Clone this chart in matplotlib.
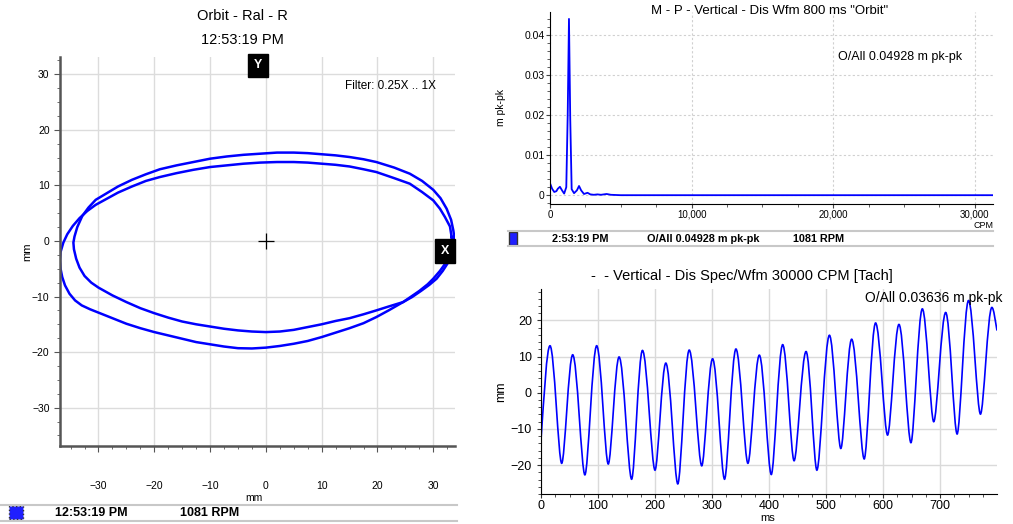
import matplotlib.pyplot as plt
import numpy as np
from matplotlib.lines import Line2D
from matplotlib.patches import Rectangle, PathPatch
from matplotlib.path import Path
from matplotlib.ticker import AutoMinorLocator, FixedLocator

plt.rcParams['font.family'] = ['Liberation Sans', 'DejaVu Sans']

# Orbit, two revolutions (mm)
orbit_a_x = [33.3, 33.0, 32.1, 31.2, 30.0, 28.0, 25.8, 23.0, 19.8, 17.5, 15.0, 12.5, 10.0, 7.5,
             5.0, 2.0, -1.0, -4.0, -7.0, -10.0, -13.0, -16.0, -19.0, -21.5, -24.0, -26.5,
             -28.5, -30.5, -32.0, -33.4, -34.6, -35.6, -36.3, -36.8, -36.9, -36.8, -36.5, -36.0,
             -35.2, -34.2, -33.0, -31.5, -30.0, -27.5, -25.0, -22.5, -20.0, -17.5, -15.0, -12.5,
             -10.0, -7.5, -5.0, -2.5, 0.0, 2.5, 5.0, 7.5, 10.0, 12.5, 15.0, 17.5, 19.8, 22.0,
             24.6, 26.2, 27.5, 29.0, 30.0, 31.2, 32.2, 32.8, 33.2, 33.35, 33.3]
orbit_a_y = [0.7, 2.6, 4.3, 5.8, 7.3, 8.8, 10.3, 11.3, 12.4, 12.9, 13.4, 13.7, 13.9, 14.1,
             14.2, 14.2, 14.1, 13.9, 13.6, 13.3, 12.8, 12.2, 11.5, 10.8, 9.8, 8.7,
             7.6, 6.5, 5.4, 4.1, 2.7, 1.2, -0.3, -2.0, -3.5, -5.0, -6.5, -8.0,
             -9.5, -10.7, -11.6, -12.3, -12.9, -13.9, -14.9, -15.7, -16.4, -17.0, -17.6, -18.2,
             -18.6, -19.0, -19.3, -19.35, -19.2, -18.9, -18.5, -18.0, -17.3, -16.5, -15.7, -14.8, -13.7, -12.5,
             -11.0, -9.9, -9.0, -7.8, -6.8, -5.4, -4.0, -2.8, -1.5, -0.4, 0.7]
orbit_b_x = [33.8, 33.6, 33.2, 32.4, 31.3, 30.0, 28.0, 25.8, 23.0, 19.8, 17.5, 15.0, 12.5, 10.0,
             7.5, 5.0, 2.0, -1.0, -4.0, -7.0, -10.0, -13.0, -16.0, -19.0, -21.5, -24.0, -26.5,
             -28.5, -30.5, -31.8, -32.9, -33.8, -34.3, -34.5, -34.4, -34.0, -33.4, -32.5, -31.3,
             -30.0, -27.5, -25.0, -22.5, -20.0, -17.5, -15.0, -12.5, -10.0, -7.5, -5.0, -2.5,
             0.0, 2.5, 5.0, 7.5, 10.0, 12.5, 15.0, 17.5, 19.8, 22.0, 24.6, 26.2, 27.8, 29.3,
             30.6, 31.7, 32.6, 33.2, 33.6, 33.8]
orbit_b_y = [0.5, 1.9, 3.8, 5.8, 7.7, 9.2, 10.8, 12.1, 13.2, 14.2, 14.7, 15.1, 15.4, 15.6,
             15.8, 15.9, 15.9, 15.7, 15.5, 15.2, 14.8, 14.2, 13.6, 12.9, 12.0, 11.0, 9.8,
             8.6, 7.4, 6.0, 4.5, 2.5, 0.8, -0.3, -1.5, -3.2, -4.8, -6.3, -7.5,
             -8.4, -9.8, -11.0, -12.1, -13.0, -13.8, -14.5, -15.0, -15.4, -15.8, -16.1, -16.3,
             -16.4, -16.3, -16.0, -15.5, -15.0, -14.4, -13.9, -13.2, -12.5, -11.8, -11.0, -10.1, -9.0, -7.9,
             -6.8, -5.4, -4.0, -2.8, -1.4, 0.5]

# Spectrum (CPM, m pk-pk)
spec_cpm = [0, 150, 300, 450, 550, 700, 850, 1000, 1150, 1250, 1340, 1430, 1530, 1700, 1900,
            2050, 2200, 2400, 2650, 2850, 3100, 3350, 3600, 4000, 4300, 5000, 31300]
spec_amp = [0.0030, 0.0016, 0.0008, 0.0010, 0.0016, 0.0021, 0.0012, 0.0004, 0.0020, 0.0200,
            0.0440, 0.0190, 0.0015, 0.0005, 0.0012, 0.0023, 0.0012, 0.0003, 0.0006, 0.0002,
            0.0001, 0.0002, 0.0001, 0.0003, 0.0001, 0.0, 0.0]

# Waveform turning points: time (ms) and value (mm), start and end included
wfm_t = [0, 15.8, 36.3, 55.6, 77, 97.7, 118, 137, 159, 178, 200, 219, 240, 260, 282, 301, 322,
         342, 363, 383, 404, 424, 444, 465, 484, 506, 526, 545, 567, 587, 608, 628, 649, 669,
         689, 710, 730, 750, 771, 791, 800]
wfm_mm = [-13, 13.0, -19.5, 10.5, -22.7, 13.0, -19.7, 9.9, -23.9, 11.7, -21.4, 8.2, -25.2,
          11.8, -20.2, 9.4, -23.9, 12.1, -19.5, 10.4, -22.6, 13.3, -18.8, 11.4, -21.4, 15.9,
          -15.4, 14.8, -18.3, 19.3, -11.7, 18.9, -13.8, 23.2, -8.0, 22.2, -11.4, 25.5, -5.9,
          23.6, 17.2]

W, H = 1013, 524
fig = plt.figure(figsize=(W / 100, H / 100), dpi=100)


def fx(px):
    return px / W


def fy(py):
    return 1 - py / H


def status_bar(x0, x1, y_top, y_bot, texts, box, dotted, size):
    fig.add_artist(Line2D([fx(x0), fx(x1)], [fy(y_top)] * 2, color='#c8c8c8', lw=1.5))
    fig.add_artist(Line2D([fx(x0), fx(x1)], [fy(y_bot)] * 2, color='#c8c8c8', lw=1.5))
    bx, by, bw, bh = box
    fig.add_artist(Rectangle((fx(bx), fy(by + bh)), bw / W, bh / H, facecolor='#1f1fff',
                             edgecolor='#333333', lw=1, ls=':' if dotted else '-'))
    ymid = fy((y_top + y_bot) / 2)
    for px, s in texts:
        fig.text(fx(px), ymid, s, fontsize=size, fontweight='bold', va='center', ha='left')


def smooth_wave(t, v):
    # cubic segments between turning points, flat at each peak / trough
    verts = [(t[0], v[0])]
    codes = [Path.MOVETO]
    n = len(t)
    for i in range(n - 1):
        t0, v0, t1, v1 = t[i], v[i], t[i + 1], v[i + 1]
        dt = t1 - t0
        k0 = 0.36 if v0 > v1 else 0.28
        k1 = 0.28 if v0 > v1 else 0.36
        c1 = (t0 + k0 * dt, v0)
        c2 = (t1 - k1 * dt, v1)
        if i == 0:
            c1 = (t0 + dt / 3, v0 + (v1 - v0) * 0.45)
        if i == n - 2:
            c2 = (t1 - dt / 3, v1 + (v0 - v1) * 0.4)
        verts += [c1, c2, (t1, v1)]
        codes += [Path.CURVE4] * 3
    return Path(verts, codes)


# ---------------- Orbit ----------------
ax1 = fig.add_axes([fx(60), fy(446), fx(455) - fx(60), fy(57) - fy(446)])
ax1.plot(orbit_a_x, orbit_a_y, color='#0000ff', lw=1.8)
ax1.plot(orbit_b_x, orbit_b_y, color='#0000ff', lw=1.8)
ax1.plot([0], [0], marker='+', color='black', ms=11, mew=0.9)
ax1.set_xlim(-36.9, 33.9)
ax1.set_ylim(-36.9, 33.1)
ax1.set_xticks([-30, -20, -10, 0, 10, 20, 30])
ax1.set_yticks([-30, -20, -10, 0, 10, 20, 30])
ax1.xaxis.set_minor_locator(AutoMinorLocator(4))
ax1.yaxis.set_minor_locator(AutoMinorLocator(4))
ax1.grid(True, color='#dcdcdc', lw=1)
ax1.set_axisbelow(True)
for s in ['top', 'right']:
    ax1.spines[s].set_visible(False)
for s in ['left', 'bottom']:
    ax1.spines[s].set_color('#555555')
    ax1.spines[s].set_linewidth(1.8)
ax1.tick_params(which='both', colors='#555555', labelcolor='black', labelsize=7.5)
ax1.tick_params(axis='x', pad=21)
ax1.tick_params(which='major', length=4)
ax1.tick_params(which='minor', length=2)
ax1.set_xlabel('mm', fontsize=7.5, va='center')
ax1.xaxis.set_label_coords(0.492, -0.134)
ax1.set_ylabel('mm', fontsize=8)
ax1.yaxis.set_label_coords(-0.07, 0.5)
ax1.text(0.501, 0.979, 'Y', transform=ax1.transAxes, color='white', fontsize=9, fontweight='bold',
         ha='center', va='center', clip_on=False,
         bbox=dict(boxstyle='square,pad=0.45', facecolor='black', edgecolor='black'))
ax1.text(0.975, 0.501, 'X', transform=ax1.transAxes, color='white', fontsize=9, fontweight='bold',
         ha='center', va='center', clip_on=False,
         bbox=dict(boxstyle='square,pad=0.45', facecolor='black', edgecolor='black'))
ax1.text(0.952, 0.925, 'Filter: 0.25X .. 1X', transform=ax1.transAxes, fontsize=8.5,
         ha='right', va='center')
fig.text(fx(242), fy(16), 'Orbit - Ral - R', fontsize=10.5, ha='center', va='center')
fig.text(fx(242), fy(40), '12:53:19 PM', fontsize=10.5, ha='center', va='center')
status_bar(0, 457, 505, 521, [(55, '12:53:19 PM'), (180, '1081 RPM')], (9, 506, 14, 13), True, 9)

# ---------------- Spectrum ----------------
ax2 = fig.add_axes([fx(550), fy(204), fx(993) - fx(550), fy(11.7) - fy(204)])
ax2.plot(spec_cpm, spec_amp, color='#0000ff', lw=1.3)
ax2.set_xlim(0, 31290)
ax2.set_ylim(-0.0022, 0.0458)
ax2.set_xticks([0, 10000, 20000, 30000])
ax2.set_xticklabels(['0', '10,000', '20,000', '30,000'])
ax2.set_yticks([0, 0.01, 0.02, 0.03, 0.04])
ax2.set_yticklabels(['0', '0.01', '0.02', '0.03', '0.04'])
ax2.xaxis.set_minor_locator(AutoMinorLocator(4))
ax2.yaxis.set_minor_locator(AutoMinorLocator(5))
ax2.grid(True, color='#d0d0d0', lw=0.8, ls=(0, (2, 2)))
ax2.set_axisbelow(True)
for s in ['top', 'right']:
    ax2.spines[s].set_visible(False)
ax2.tick_params(which='both', colors='#444444', labelcolor='black')
ax2.tick_params(axis='y', labelsize=7.5, pad=1)
ax2.tick_params(axis='x', labelsize=7, pad=1)
ax2.tick_params(which='major', length=3)
ax2.tick_params(which='minor', length=2)
ax2.set_ylabel('m pk-pk', fontsize=7.5)
ax2.yaxis.set_label_coords(-0.1, 0.5)
ax2.text(1.0, -0.112, 'CPM', transform=ax2.transAxes, fontsize=6.5, ha='right', va='center')
ax2.text(0.93, 0.764, 'O/All 0.04928 m pk-pk', transform=ax2.transAxes, fontsize=9,
         ha='right', va='center')
fig.text(fx(770), fy(11), 'M - P - Vertical - Dis Wfm 800 ms "Orbit"', fontsize=9.5,
         ha='center', va='center')
status_bar(508, 993, 231, 246,
           [(552, '2:53:19 PM'), (647, 'O/All 0.04928 m pk-pk'), (793, '1081 RPM')],
           (509, 232, 8, 13), False, 7.8)

# ---------------- Waveform ----------------
ax3 = fig.add_axes([fx(541), fy(494), fx(997) - fx(541), fy(289) - fy(494)])
ax3.add_patch(PathPatch(smooth_wave(wfm_t, wfm_mm), facecolor='none', edgecolor='#0000ff', lw=1.2))
ax3.set_xlim(0, 800)
ax3.set_ylim(-28, 28.7)
ax3.set_xticks([0, 100, 200, 300, 400, 500, 600, 700])
ax3.set_yticks([-20, -10, 0, 10, 20])
ax3.xaxis.set_minor_locator(FixedLocator(np.arange(0, 800, 25)))
ax3.yaxis.set_minor_locator(AutoMinorLocator(5))
ax3.grid(True, color='#dadada', lw=1)
ax3.set_axisbelow(True)
for s in ['top', 'right']:
    ax3.spines[s].set_visible(False)
ax3.tick_params(which='both', colors='#333333', labelcolor='black', labelsize=9)
ax3.tick_params(axis='x', pad=1)
ax3.tick_params(which='major', length=3)
ax3.tick_params(which='minor', length=2)
ax3.set_xlabel('ms', fontsize=8, va='center')
ax3.xaxis.set_label_coords(0.496, -0.115)
ax3.set_ylabel('mm', fontsize=9)
ax3.yaxis.set_label_coords(-0.075, 0.5)
ax3.text(1.013, 0.956, 'O/All 0.03636 m pk-pk', transform=ax3.transAxes, fontsize=10,
         ha='right', va='center', clip_on=False)
fig.text(fx(742), fy(276), '-  - Vertical - Dis Spec/Wfm 30000 CPM [Tach]', fontsize=10.5,
         ha='center', va='center')

fig.savefig('out.png', dpi=100)
